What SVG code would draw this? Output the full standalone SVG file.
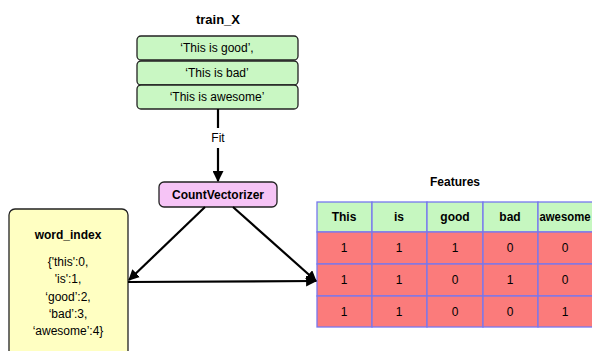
<svg xmlns="http://www.w3.org/2000/svg" width="592" height="351" viewBox="0 0 592 351">
<style>
text{font-family:"Liberation Sans",Arial,sans-serif;font-size:12px;fill:#000;text-anchor:middle;dominant-baseline:central}
.b{font-weight:bold}
.g{fill:#c9f7c3;stroke:#222;stroke-width:1.3}
.cv{fill:#f6c4f6;stroke:#222;stroke-width:1.3}
.y{fill:#ffffc2;stroke:#222;stroke-width:1.3}
.h{fill:#c6f7c0;stroke:#7777ee;stroke-width:1.3}
.r{fill:#fb7b7b;stroke:#7777ee;stroke-width:1.3}
.e{stroke:#000;stroke-width:2.2;fill:none}
</style>
<defs>
<marker id="ah" viewBox="0 0 10 10" refX="9" refY="5" markerWidth="5" markerHeight="5" orient="auto" markerUnits="strokeWidth">
<path d="M0,0 L10,5 L0,10 z" fill="#000"/>
</marker>
</defs>
<g id="train_X">
<text class="b" x="218" y="19" style="font-size:13px">train_X</text>
<rect class="g" x="137" y="36" width="161" height="24" rx="4"/>
<text x="217" y="48">‘This is good’,</text>
<rect class="g" x="137" y="61" width="161" height="24" rx="4"/>
<text x="217" y="73">‘This is bad’</text>
<rect class="g" x="137" y="85" width="161" height="24" rx="4"/>
<text x="217" y="97">‘This is awesome’</text>
</g>
<g id="countvectorizer">
<rect class="cv" x="159" y="182" width="118" height="25" rx="5"/>
<text class="b" x="218" y="195">CountVectorizer</text>
</g>
<g id="word_index">
<rect class="y" x="9" y="209" width="119" height="150" rx="6"/>
<text class="b" x="68" y="235">word_index</text>
<text x="68" y="262">{'this':0,</text>
<text x="68" y="279">'is':1,</text>
<text x="68" y="297">‘good’:2,</text>
<text x="68" y="314">‘bad’:3,</text>
<text x="68" y="331">‘awesome’:4}</text>
</g>
<g id="features">
<text class="b" x="455" y="182">Features</text>
<rect class="h" x="317" y="202" width="55" height="30"/>
<rect class="h" x="372" y="202" width="55" height="30"/>
<rect class="h" x="427" y="202" width="56" height="30"/>
<rect class="h" x="483" y="202" width="55" height="30"/>
<rect class="h" x="538" y="202" width="56" height="30"/>
<text class="b" x="344" y="217">This</text>
<text class="b" x="399" y="217">is</text>
<text class="b" x="455" y="217">good</text>
<text class="b" x="510" y="217">bad</text>
<text class="b" x="565" y="217" textLength="51" lengthAdjust="spacingAndGlyphs">awesome</text>
<g>
<rect class="r" x="317" y="232" width="55" height="32"/><rect class="r" x="372" y="232" width="55" height="32"/><rect class="r" x="427" y="232" width="56" height="32"/><rect class="r" x="483" y="232" width="55" height="32"/><rect class="r" x="538" y="232" width="56" height="32"/>
<rect class="r" x="317" y="264" width="55" height="32"/><rect class="r" x="372" y="264" width="55" height="32"/><rect class="r" x="427" y="264" width="56" height="32"/><rect class="r" x="483" y="264" width="55" height="32"/><rect class="r" x="538" y="264" width="56" height="32"/>
<rect class="r" x="317" y="296" width="55" height="31"/><rect class="r" x="372" y="296" width="55" height="31"/><rect class="r" x="427" y="296" width="56" height="31"/><rect class="r" x="483" y="296" width="55" height="31"/><rect class="r" x="538" y="296" width="56" height="31"/>
</g>
<text x="344" y="248">1</text><text x="399" y="248">1</text><text x="455" y="248">1</text><text x="510" y="248">0</text><text x="565" y="248">0</text>
<text x="344" y="280">1</text><text x="399" y="280">1</text><text x="455" y="280">0</text><text x="510" y="280">1</text><text x="565" y="280">0</text>
<text x="344" y="312">1</text><text x="399" y="312">1</text><text x="455" y="312">0</text><text x="510" y="312">0</text><text x="565" y="312">1</text>
</g>
<g id="connectors">
<line class="e" x1="218" y1="109" x2="218" y2="181" marker-end="url(#ah)"/>
<rect x="208" y="128" width="20" height="20" fill="#fff"/>
<text x="218" y="138">Fit</text>
<line class="e" x1="205" y1="207" x2="129" y2="280" marker-end="url(#ah)"/>
<line class="e" x1="233" y1="207" x2="316" y2="281" marker-end="url(#ah)"/>
<line class="e" x1="128" y1="282" x2="316" y2="281" marker-end="url(#ah)"/>
</g>
</svg>
